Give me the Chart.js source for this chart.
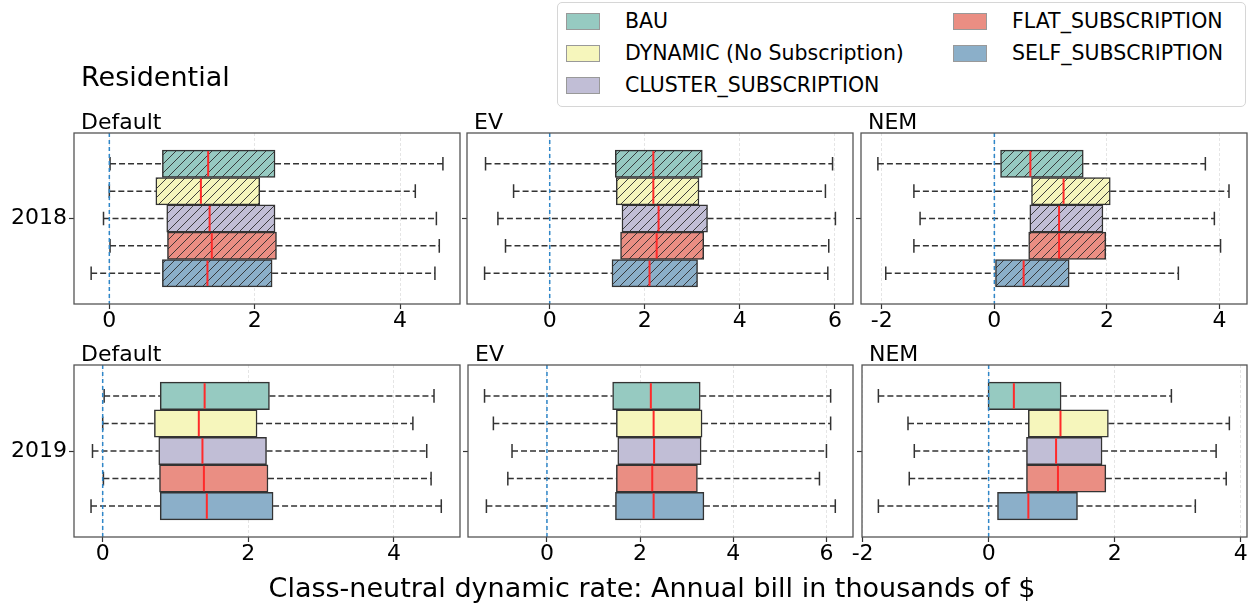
<!DOCTYPE html>
<html>
<head>
<meta charset="utf-8">
<script src="https://cdn.jsdelivr.net/npm/chart.js@4.4.0/dist/chart.umd.min.js"></script>
<style>
  body { margin: 0; width: 1250px; height: 606px; background: #fff; position: relative; overflow: hidden; font-family: 'DejaVu Sans', sans-serif; }
  canvas { position: absolute; }
  .txt { position: absolute; line-height: 1; white-space: nowrap; color: #000; }
  #legendBox { position: absolute; left: 557px; top: 2px; width: 687px; height: 103px; border: 1px solid #d6d6d6; border-radius: 5px; background: rgba(255,255,255,0.8); }
  .sw { position: absolute; width: 32px; height: 15px; border: 1px solid #999; }
  .lg { position: absolute; font-size: 20.5px; line-height: 1; white-space: nowrap; }
</style>
</head>
<body>
<div id="legendBox"></div>
<script>
// hue levels, top to bottom
const categories = ['BAU', 'DYNAMIC (No Subscription)', 'CLUSTER_SUBSCRIPTION', 'FLAT_SUBSCRIPTION', 'SELF_SUBSCRIPTION'];
const colors = ['#96cac1', '#f6f6bc', '#c1bed6', '#ea8e83', '#8bafc9'];
const years = ['2018', '2019'];
const scenarios = ['Default', 'EV', 'NEM'];

// each row: [min, q1, median, q3, max] in thousands of $
const default2018 = [[0.01, 0.73, 1.36, 2.28, 4.59], [0.00, 0.64, 1.26, 2.07, 4.21], [-0.08, 0.79, 1.38, 2.28, 4.50], [0.01, 0.80, 1.41, 2.30, 4.54], [-0.25, 0.73, 1.35, 2.24, 4.48]];
const ev2018 = [[-1.35, 1.38, 2.18, 3.21, 5.95], [-0.76, 1.40, 2.18, 3.14, 5.80], [-1.09, 1.52, 2.29, 3.32, 6.01], [-0.93, 1.49, 2.25, 3.24, 5.87], [-1.37, 1.31, 2.10, 3.11, 5.85]];
const nem2018 = [[-2.07, 0.11, 0.64, 1.58, 3.75], [-1.43, 0.66, 1.23, 2.06, 4.17], [-1.32, 0.63, 1.15, 1.93, 3.91], [-1.43, 0.61, 1.15, 1.98, 4.02], [-1.93, 0.02, 0.52, 1.33, 3.27]];
const default2019 = [[0.02, 0.79, 1.40, 2.29, 4.55], [0.00, 0.71, 1.32, 2.12, 4.26], [-0.14, 0.77, 1.37, 2.25, 4.45], [0.01, 0.78, 1.39, 2.27, 4.51], [-0.16, 0.79, 1.43, 2.34, 4.65]];
const ev2019 = [[-1.34, 1.41, 2.23, 3.29, 6.09], [-1.15, 1.49, 2.29, 3.33, 6.09], [-0.75, 1.52, 2.30, 3.31, 6.00], [-0.84, 1.49, 2.26, 3.23, 5.85], [-1.30, 1.47, 2.29, 3.37, 6.19]];
const nem2019 = [[-1.75, -0.01, 0.40, 1.15, 2.90], [-1.28, 0.63, 1.14, 1.90, 3.82], [-1.18, 0.60, 1.07, 1.80, 3.61], [-1.26, 0.60, 1.10, 1.86, 3.77], [-1.75, 0.14, 0.63, 1.41, 3.28]];

const ticksDefault = [0, 2, 4];
const ticksEV = [0, 2, 4, 6];
const ticksNEM = [-2, 0, 2, 4];

const FONT = 'DejaVu Sans';
const PL = 4, PR = 14, PT = 22, XH = 36;

// plot rectangles and axis ranges
const panels = [
  { rows: default2018, ticks: ticksDefault, year: 0, sc: 0, l: 74, t: 133, r: 460, b: 304, min: -0.486, max: 4.825, hatch: true },
  { rows: ev2018, ticks: ticksEV, year: 0, sc: 1, l: 467, t: 133, r: 853, b: 304, min: -1.74, max: 6.38, hatch: true },
  { rows: nem2018, ticks: ticksNEM, year: 0, sc: 2, l: 861, t: 133, r: 1247, b: 304, min: -2.37, max: 4.49, hatch: true },
  { rows: default2019, ticks: ticksDefault, year: 1, sc: 0, l: 74, t: 365, r: 460, b: 537, min: -0.394, max: 4.907, hatch: false },
  { rows: ev2019, ticks: ticksEV, year: 1, sc: 1, l: 468, t: 365, r: 853, b: 537, min: -1.695, max: 6.57, hatch: false },
  { rows: nem2019, ticks: ticksNEM, year: 1, sc: 2, l: 862, t: 365, r: 1247, b: 537, min: -2.01, max: 4.10, hatch: false }
];

const hueWidth = 0.8 / categories.length;
const rowPos = i => (i - (categories.length - 1) / 2) * hueWidth;

function hatchPattern(color) {
  const c = document.createElement('canvas');
  c.width = c.height = 9;
  const g = c.getContext('2d');
  g.fillStyle = color;
  g.fillRect(0, 0, 9, 9);
  g.strokeStyle = 'rgba(45,45,45,0.9)';
  g.lineWidth = 1;
  g.beginPath();
  g.moveTo(0, 9); g.lineTo(9, 0);
  g.moveTo(-1, 1); g.lineTo(1, -1);
  g.moveTo(8, 10); g.lineTo(10, 8);
  g.stroke();
  return g.createPattern(c, 'repeat');
}

const boxExtras = {
  id: 'boxExtras',
  afterDatasetsDraw(chart, args, opts) {
    const { ctx, chartArea: a, scales: { x, y } } = chart;
    const bars = chart.getDatasetMeta(0).data;
    ctx.save();
    opts.rows.forEach((r, i) => {
      const cy = y.getPixelForValue(rowPos(i));
      const h = bars[i].height;
      const [lo, q1, med, q3, hi] = r.map(v => x.getPixelForValue(v));
      ctx.strokeStyle = '#333';
      ctx.lineWidth = 1.5;
      ctx.setLineDash([6, 3]);
      ctx.beginPath();
      ctx.moveTo(lo, cy); ctx.lineTo(q1, cy);
      ctx.moveTo(q3, cy); ctx.lineTo(hi, cy);
      ctx.stroke();
      ctx.setLineDash([]);
      ctx.beginPath();
      ctx.moveTo(lo, cy - h / 4); ctx.lineTo(lo, cy + h / 4);
      ctx.moveTo(hi, cy - h / 4); ctx.lineTo(hi, cy + h / 4);
      ctx.stroke();
      ctx.strokeStyle = '#ff2a2a';
      ctx.lineWidth = 2;
      ctx.beginPath();
      ctx.moveTo(med, cy - h / 2 + 1); ctx.lineTo(med, cy + h / 2 - 1);
      ctx.stroke();
    });
    // zero reference line
    const zx = x.getPixelForValue(0);
    ctx.strokeStyle = '#2f86c8';
    ctx.lineWidth = 1.5;
    ctx.setLineDash([4, 3]);
    ctx.beginPath();
    ctx.moveTo(zx, a.top); ctx.lineTo(zx, a.bottom);
    ctx.stroke();
    ctx.setLineDash([]);
    // frame
    ctx.strokeStyle = '#555';
    ctx.lineWidth = 1.3;
    ctx.strokeRect(a.left, a.top, a.right - a.left, a.bottom - a.top);
    ctx.restore();
  }
};

function addText(text, left, top, size, extra) {
  const d = document.createElement('div');
  d.className = 'txt';
  d.textContent = text;
  d.style.left = left + 'px';
  d.style.top = top + 'px';
  d.style.fontSize = size + 'px';
  if (extra) Object.assign(d.style, extra);
  document.body.appendChild(d);
}

panels.forEach(p => {
  const YW = p.sc === 0 ? 70 : 10;
  const canvas = document.createElement('canvas');
  const w = (p.r - p.l) + PL + YW + PR;
  const h = (p.b - p.t) + PT + XH;
  canvas.width = w; canvas.height = h;
  canvas.style.left = (p.l - PL - YW) + 'px';
  canvas.style.top = (p.t - PT) + 'px';
  document.body.appendChild(canvas);

  const bg = colors.map(c => p.hatch ? hatchPattern(c) : c);
  new Chart(canvas, {
    type: 'bar',
    data: {
      datasets: [{
        label: years[p.year],
        data: p.rows.map((r, i) => ({ x: [r[1], r[3]], y: rowPos(i) })),
        backgroundColor: bg,
        borderColor: '#333',
        borderWidth: 1.5,
        borderSkipped: false,
        categoryPercentage: 1,
        barPercentage: 1
      }]
    },
    options: {
      indexAxis: 'y',
      responsive: false,
      animation: false,
      events: [],
      layout: { padding: { left: PL, right: PR, top: PT, bottom: 0 } },
      plugins: {
        legend: { display: false },
        tooltip: { enabled: false },
        boxExtras: { rows: p.rows }
      },
      scales: {
        x: {
          type: 'linear',
          min: p.min,
          max: p.max,
          afterBuildTicks: ax => { ax.ticks = p.ticks.map(v => ({ value: v })); },
          afterFit: ax => { ax.height = XH; },
          grid: { color: 'rgba(0,0,0,0.13)', lineWidth: 0.8, tickColor: '#333', tickLength: 5, tickWidth: 1.2 },
          border: { display: false, dash: [3, 2] },
          ticks: { font: { family: FONT, size: 22, lineHeight: 1 }, color: '#000', padding: 1, maxRotation: 0, autoSkip: false }
        },
        y: {
          type: 'linear',
          min: -0.5,
          max: 0.5,
          offset: false,
          reverse: true,
          afterBuildTicks: ax => { ax.ticks = [{ value: 0 }]; },
          afterFit: ax => { ax.width = YW; },
          grid: { offset: false, drawOnChartArea: false, tickColor: '#333', tickLength: 5, tickWidth: 1.2 },
          border: { display: false },
          ticks: { callback: () => p.sc === 0 ? years[p.year] : '', font: { family: FONT, size: 22, lineHeight: 1 }, color: '#000', padding: 2 }
        }
      }
    },
    plugins: [boxExtras]
  });

  addText(scenarios[p.sc], p.l + 7, p.t - 21.6, 22);
});

addText('Residential', 81, 63, 27);
addText('Class-neutral dynamic rate: Annual bill in thousands of $', 652, 574, 27, { transform: 'translateX(-50%)' });

// legend, column-major like the reference
categories.forEach((c, i) => {
  const col = i < 3 ? 0 : 1;
  const row = i < 3 ? i : i - 3;
  const cy = 21 + row * 32;
  const sw = document.createElement('div');
  sw.className = 'sw';
  sw.style.left = (col === 0 ? 566 : 953) + 'px';
  sw.style.top = (cy - 8) + 'px';
  sw.style.background = colors[i];
  document.body.appendChild(sw);
  const t = document.createElement('div');
  t.className = 'lg';
  t.textContent = c;
  t.style.left = (col === 0 ? 625 : 1012) + 'px';
  t.style.top = (cy - 10) + 'px';
  document.body.appendChild(t);
});
</script>
</body>
</html>
